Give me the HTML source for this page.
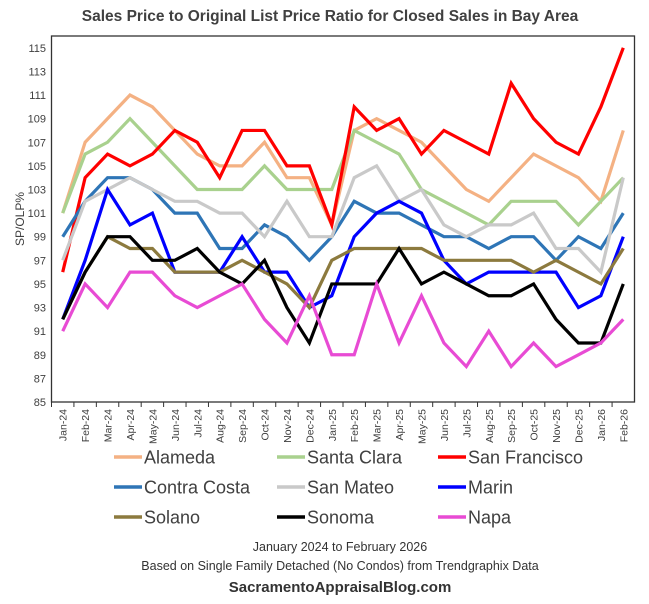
<!DOCTYPE html>
<html><head><meta charset="utf-8"><style>
body{margin:0;background:#fff;width:649px;height:599px;overflow:hidden;font-family:"Liberation Sans",sans-serif}
</style></head><body>
<svg width="649" height="599" id="svg" xmlns="http://www.w3.org/2000/svg">
<text x="330" y="21" text-anchor="middle" font-size="15.5" font-weight="bold" fill="#404040">Sales Price to Original List Price Ratio for Closed Sales in Bay Area</text>
<text transform="translate(24,219) rotate(-90)" text-anchor="middle" font-size="12" fill="#404040">SP/OLP%</text>
<g id="grid"></g><g id="lines"></g>
<rect x="51.5" y="36" width="583" height="366" fill="none" stroke="#333" stroke-width="1.3"/>
<g id="legend"></g>
<text x="340" y="551" text-anchor="middle" font-size="12.5" fill="#333">January 2024 to February 2026</text>
<text x="340" y="570" text-anchor="middle" font-size="12.5" fill="#333">Based on Single Family Detached (No Condos) from Trendgraphix Data</text>
<text x="340" y="592" text-anchor="middle" font-size="15" font-weight="bold" fill="#333">SacramentoAppraisalBlog.com</text>
</svg>
<script>
const months=["Jan-24","Feb-24","Mar-24","Apr-24","May-24","Jun-24","Jul-24","Aug-24","Sep-24","Oct-24","Nov-24","Dec-24","Jan-25","Feb-25","Mar-25","Apr-25","May-25","Jun-25","Jul-25","Aug-25","Sep-25","Oct-25","Nov-25","Dec-25","Jan-26","Feb-26"];
const yTicks=[85,87,89,91,93,95,97,99,101,103,105,107,109,111,113,115];
const alameda=[101,107,109,111,110,108,106,105,105,107,104,104,100,108,109,108,107,105,103,102,104,106,105,104,102,108];
const santaClara=[101,106,107,109,107,105,103,103,103,105,103,103,103,108,107,106,103,102,101,100,102,102,102,100,102,104];
const sanFrancisco=[96,104,106,105,106,108,107,104,108,108,105,105,100,110,108,109,106,108,107,106,112,109,107,106,110,115];
const contraCosta=[99,102,104,104,103,101,101,98,98,100,99,97,99,102,101,101,100,99,99,98,99,99,97,99,98,101];
const sanMateo=[97,102,103,104,103,102,102,101,101,99,102,99,99,104,105,102,103,100,99,100,100,101,98,98,96,104];
const marin=[92,97,103,100,101,96,96,96,99,96,96,93,94,99,101,102,101,97,95,96,96,96,96,93,94,99];
const solano=[92,96,99,98,98,96,96,96,97,96,95,93,97,98,98,98,98,97,97,97,97,96,97,96,95,98];
const sonoma=[92,96,99,99,97,97,98,96,95,97,93,90,95,95,95,98,95,96,95,94,94,95,92,90,90,95];
const napa=[91,95,93,96,96,94,93,94,95,92,90,94,89,89,95,90,94,90,88,91,88,90,88,89,90,92];
const series=[
 {name:"Alameda",v:alameda,c:"#f4b183",id:"alameda"},
 {name:"Santa Clara",v:santaClara,c:"#a9d18e",id:"santa-clara"},
 {name:"San Francisco",v:sanFrancisco,c:"#ff0000",id:"san-francisco"},
 {name:"Contra Costa",v:contraCosta,c:"#2e75b6",id:"contra-costa"},
 {name:"San Mateo",v:sanMateo,c:"#c9c9c9",id:"san-mateo"},
 {name:"Marin",v:marin,c:"#0000ff",id:"marin"},
 {name:"Solano",v:solano,c:"#8c7a3e",id:"solano"},
 {name:"Sonoma",v:sonoma,c:"#000000",id:"sonoma"},
 {name:"Napa",v:napa,c:"#e84bd4",id:"napa"}];
const NS="http://www.w3.org/2000/svg";
const L=51.5,W=583,T=36,B=402,yMin=85,yMax=116;
const xS=i=>L+W/months.length*(i+0.5);
const yS=v=>B-(v-yMin)/(yMax-yMin)*(B-T);
function mk(t,a,p){const e=document.createElementNS(NS,t);for(const k in a)e.setAttribute(k,a[k]);p.appendChild(e);return e;}
const g=document.getElementById('grid');
yTicks.forEach(t=>{
 const tx=mk('text',{x:46,y:yS(t)+4,'text-anchor':'end','font-size':11,fill:'#404040'},g);
 tx.textContent=t;
 
 
});
months.forEach((m,i)=>{
 const x0=L+W/months.length*i;
 const tk=mk('line',{x1:x0,x2:x0,y1:B,y2:B+5,stroke:'#333','stroke-width':1},g);
 
 
 const tx=mk('text',{transform:`translate(${xS(i)+4},${B+7}) rotate(-90)`,'text-anchor':'end','font-size':10.5,fill:'#404040'},g);
 tx.textContent=m;
 
 
});
const lg=document.getElementById('lines');
series.forEach(s=>{
 const p=mk('polyline',{points:s.v.map((v,i)=>xS(i)+','+yS(v)).join(' '),fill:'none',stroke:s.c,'stroke-width':3.2,'stroke-linejoin':'miter'},lg);
 
 
});
const leg=document.getElementById('legend');
const cols=[114,277,438],rows=[457,487,517];
series.forEach((s,i)=>{
 const x=cols[i%3],y=rows[Math.floor(i/3)];
 const gi=mk('g',{},leg);
 
 
 mk('line',{x1:x,x2:x+28,y1:y,y2:y,stroke:s.c,'stroke-width':3.5},gi);
 const t=mk('text',{x:x+30,y:y+6.5,'font-size':18,fill:'#404040'},gi);
 t.textContent=s.name;
});
</script>
</body></html>
